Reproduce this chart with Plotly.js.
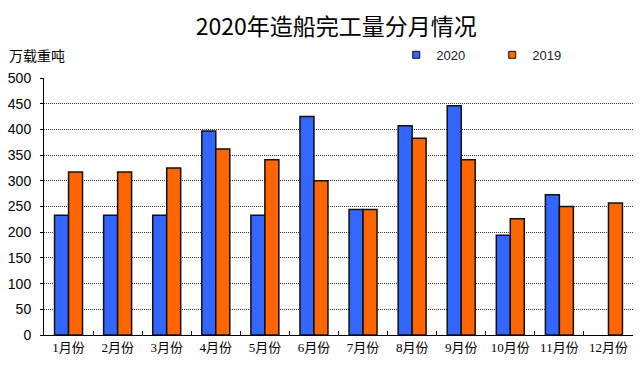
<!DOCTYPE html>
<html>
<head>
<meta charset="utf-8">
<script src="https://cdn.plot.ly/plotly-3.0.1.min.js"></script>
<style>html,body{margin:0;padding:0;background:#fff;}#chart{width:644px;height:374px;}</style>
</head>
<body>
<div id="chart"></div>
<script>
const months = ["1月份","2月份","3月份","4月份","5月份","6月份","7月份","8月份","9月份","10月份","11月份","12月份"];
const values2020 = [233, 233, 233, 397, 233, 425, 244, 407, 446, 194, 273, null];
const values2019 = [317, 317, 325, 362, 341, 300, 244, 383, 341, 226, 250, 257];
const yTicks = [0, 50, 100, 150, 200, 250, 300, 350, 400, 450, 500];
const seriesNames = ['2020', '2019'];
const seriesColors = ['#3366FF', '#FF6600'];

const traces = [
  {type: 'bar', name: seriesNames[0], x: months, y: values2020, showlegend: false,
   marker: {color: seriesColors[0], line: {color: '#111', width: 1.5}}},
  {type: 'bar', name: seriesNames[1], x: months, y: values2019, showlegend: false,
   marker: {color: seriesColors[1], line: {color: '#111', width: 1.5}}},
  // legend keys (small squares, as in the reference)
  {type: 'scatter', mode: 'markers', name: seriesNames[0], x: [null], y: [null], showlegend: true,
   marker: {symbol: 'square', size: 7, color: seriesColors[0], line: {color: '#111', width: 1}}},
  {type: 'scatter', mode: 'markers', name: seriesNames[1], x: [null], y: [null], showlegend: true,
   marker: {symbol: 'square', size: 7, color: seriesColors[1], line: {color: '#111', width: 1}}}
];

const layout = {
  width: 644, height: 374,
  margin: {l: 44, r: 11, t: 78, b: 39, autoexpand: false},
  paper_bgcolor: '#fff', plot_bgcolor: '#fff',
  barmode: 'group', bargap: 0.43, bargroupgap: 0,
  showlegend: true,
  title: {text: '2020年造船完工量分月情况', x: 0.522, xanchor: 'center', y: 0.927, yanchor: 'middle',
          font: {family: 'Noto Sans CJK SC, sans-serif', size: 23, color: '#000'}},
  legend: {orientation: 'h', x: 0.598, y: 1.09, xanchor: 'left', yanchor: 'middle',
           font: {family: 'Liberation Sans, Arial, sans-serif', size: 13, color: '#222'},
           entrywidth: 51, entrywidthmode: 'pixels', itemwidth: 30, bgcolor: 'rgba(0,0,0,0)'},
  xaxis: {type: 'category', showline: true, linecolor: '#000', linewidth: 1,
          ticks: 'inside', ticklen: 4, tickcolor: '#000', tickson: 'boundaries', tickangle: 0,
          automargin: false, showgrid: false, zeroline: false, fixedrange: true,
          tickfont: {family: 'Liberation Serif, Noto Sans CJK SC, serif', size: 13, color: '#000'}},
  yaxis: {range: [0, 500], tickvals: yTicks, showline: true, linecolor: '#000', linewidth: 1,
          ticks: 'outside', ticklen: 3, tickcolor: '#000', ticklabelstandoff: 6, automargin: false,
          showgrid: true, gridcolor: '#333', griddash: '1px,1px', gridwidth: 1, zeroline: false,
          tickfont: {family: 'Liberation Sans, Arial, sans-serif', size: 14, color: '#000'}},
  annotations: [
    {text: '万载重吨', xref: 'paper', yref: 'paper', x: -0.063, y: 1.088, xanchor: 'left', yanchor: 'middle',
     showarrow: false, font: {family: 'Noto Sans CJK SC, sans-serif', size: 14, color: '#000'}}
  ]
};

Plotly.newPlot('chart', traces, layout, {displayModeBar: false, staticPlot: true});
</script>
</body>
</html>
